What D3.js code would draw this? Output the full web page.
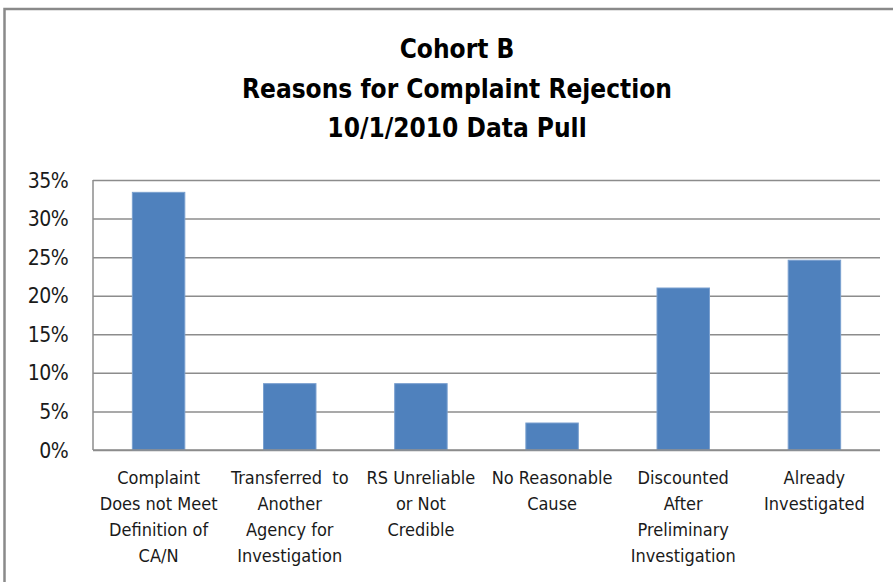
<!DOCTYPE html>
<html>
<head>
<meta charset="utf-8">
<script src="https://cdn.jsdelivr.net/npm/d3@7"></script>
<style>
  html, body { margin: 0; padding: 0; background: #fff; }
  svg { display: block; font-family: "Liberation Sans Narrow", "DejaVu Sans Condensed", "Liberation Sans", sans-serif; }
</style>
</head>
<body>
<svg id="chart"></svg>
<script>
// Data
const titleLines = ['Cohort B', 'Reasons for Complaint Rejection', '10/1/2010 Data Pull'];
const categories = [
  ['Complaint', 'Does not Meet', 'Definition of', 'CA/N'],
  ['Transferred  to', 'Another', 'Agency for', 'Investigation'],
  ['RS Unreliable', 'or Not', 'Credible'],
  ['No Reasonable', 'Cause'],
  ['Discounted', 'After', 'Preliminary', 'Investigation'],
  ['Already', 'Investigated']
];
const values = [0.334, 0.086, 0.086, 0.035, 0.210, 0.246];
const yTicks = [0, 0.05, 0.10, 0.15, 0.20, 0.25, 0.30, 0.35];

const width = 893, height = 582;
const plot = { left: 93, right: 880, top: 180, bottom: 450 };

const svg = d3.select('#chart').attr('width', width).attr('height', height);

// chart border (right/bottom edges fall outside the frame)
svg.append('rect')
  .attr('x', 4.5).attr('y', 9)
  .attr('width', width + 10).attr('height', height + 10)
  .attr('fill', 'none')
  .attr('stroke', '#8a8a8a')
  .attr('stroke-width', 2.5);

// title
svg.append('g').selectAll('text')
  .data(titleLines)
  .join('text')
    .attr('x', 457)
    .attr('y', (d, i) => 58 + i * 39.5)
    .attr('text-anchor', 'middle')
    .attr('font-size', 26)
    .attr('font-weight', 'bold')
    .attr('fill', '#000')
    .text(d => d);

const x = d3.scaleBand()
  .domain(d3.range(categories.length))
  .range([plot.left, plot.right])
  .paddingInner(0.6)
  .paddingOuter(0.3);

const y = d3.scaleLinear()
  .domain([0, 0.35])
  .range([plot.bottom, plot.top]);

// gridlines
svg.append('g')
  .attr('transform', `translate(${plot.left},0)`)
  .call(d3.axisLeft(y).tickValues(yTicks).tickSize(-(plot.right - plot.left)).tickFormat(''))
  .call(g => g.select('.domain').remove())
  .call(g => g.selectAll('line').attr('stroke', '#8c8c8c').attr('stroke-width', 1.5));

// y axis line
svg.append('line')
  .attr('x1', plot.left).attr('x2', plot.left)
  .attr('y1', plot.top).attr('y2', plot.bottom)
  .attr('stroke', '#8c8c8c').attr('stroke-width', 1.5);

// y labels
svg.append('g').selectAll('text')
  .data(yTicks)
  .join('text')
    .attr('x', 68)
    .attr('y', d => y(d))
    .attr('dy', '0.36em')
    .attr('text-anchor', 'end')
    .attr('font-size', 21)
    .attr('letter-spacing', -0.6)
    .attr('fill', '#1a1a1a')
    .text(d => d3.format('.0%')(d));

// bars
svg.append('g').selectAll('rect')
  .data(values)
  .join('rect')
    .attr('x', (d, i) => x(i))
    .attr('width', x.bandwidth())
    .attr('y', d => y(d))
    .attr('height', d => y(0) - y(d))
    .attr('fill', '#4f81bd')
    .attr('stroke', '#7aa0cf')
    .attr('stroke-width', 1);

// x axis line on top of bars
svg.append('line')
  .attr('x1', plot.left).attr('x2', plot.right)
  .attr('y1', plot.bottom).attr('y2', plot.bottom)
  .attr('stroke', '#8c8c8c').attr('stroke-width', 1.5);

// category labels
const cat = svg.append('g').selectAll('text')
  .data(categories)
  .join('text')
    .attr('x', (d, i) => x(i) + x.bandwidth() / 2)
    .attr('y', 484)
    .attr('text-anchor', 'middle')
    .attr('font-size', 18)
    .attr('fill', '#1a1a1a');
cat.selectAll('tspan')
  .data(d => d)
  .join('tspan')
    .attr('x', function() { return this.parentNode.getAttribute('x'); })
    .attr('dy', (d, i) => i === 0 ? 0 : 26)
    .style('white-space', 'pre')
    .text(d => d);
</script>
</body>
</html>
